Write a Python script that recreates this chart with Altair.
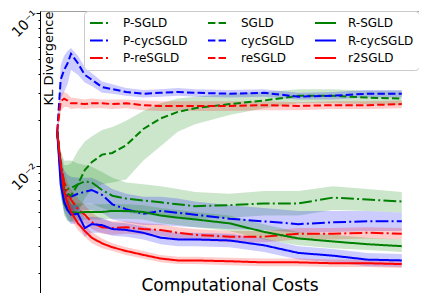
import altair as alt
import pandas as pd

cost = [0, 1, 2, 3, 4, 6, 8, 10, 13, 16, 20, 25, 30, 35, 40, 50, 60, 70, 80, 90, 100]

series_names = ["P-SGLD", "P-cycSGLD", "P-reSGLD",
                "SGLD", "cycSGLD", "reSGLD",
                "R-SGLD", "R-cycSGLD", "r2SGLD"]
series_colors = ["green", "blue", "red", "green", "blue", "red", "green", "blue", "red"]
series_dashes = [[12.8, 3.2, 2, 3.2], [12.8, 3.2, 2, 3.2], [12.8, 3.2, 2, 3.2],
                 [7.4, 3.2], [7.4, 3.2], [7.4, 3.2],
                 [1, 0], [1, 0], [1, 0]]

psgld_mean = [0.0168, 0.0102, 0.00784, 0.00710, 0.00720, 0.00762, 0.00795, 0.00784, 0.00700, 0.00642, 0.00615, 0.00598, 0.00581, 0.00564, 0.00549, 0.00557, 0.00572, 0.00572, 0.00624, 0.00606, 0.00589]
psgld_hi = [0.0180, 0.0126, 0.0109, 0.0109, 0.0109, 0.0104, 0.0102, 0.00990, 0.00918, 0.00842, 0.00784, 0.00762, 0.00741, 0.00710, 0.00680, 0.00661, 0.00690, 0.00690, 0.00741, 0.00710, 0.00680]
psgld_lo = [0.0156, 0.00762, 0.00572, 0.00518, 0.00511, 0.00533, 0.00572, 0.00572, 0.00533, 0.00511, 0.00497, 0.00483, 0.00477, 0.00462, 0.00455, 0.00462, 0.00477, 0.00477, 0.00518, 0.00511, 0.00497]

sgld_mean = [0.0168, 0.00944, 0.00710, 0.00661, 0.00642, 0.00762, 0.00944, 0.0106, 0.0119, 0.0122, 0.0137, 0.0175, 0.0205, 0.0226, 0.0239, 0.0254, 0.0268, 0.0288, 0.0288, 0.0280, 0.0276]
sgld_hi = [0.0180, 0.0126, 0.0102, 0.0102, 0.0104, 0.0126, 0.0145, 0.0156, 0.0172, 0.0180, 0.0198, 0.0229, 0.0257, 0.0276, 0.0284, 0.0297, 0.0305, 0.0318, 0.0318, 0.0310, 0.0310]
sgld_lo = [0.0156, 0.00661, 0.00497, 0.00450, 0.00431, 0.00497, 0.00615, 0.00710, 0.00762, 0.00784, 0.00818, 0.0109, 0.0135, 0.0168, 0.0188, 0.0216, 0.0239, 0.0257, 0.0257, 0.0254, 0.0250]

rsgld_mean = [0.0168, 0.00879, 0.00572, 0.00518, 0.00503, 0.00497, 0.00503, 0.00503, 0.00503, 0.00511, 0.00511, 0.00503, 0.00477, 0.00462, 0.00450, 0.00424, 0.00373, 0.00338, 0.00323, 0.00310, 0.00301]
rsgld_hi = [0.0180, 0.0109, 0.00710, 0.00633, 0.00598, 0.00572, 0.00572, 0.00564, 0.00564, 0.00564, 0.00564, 0.00557, 0.00533, 0.00518, 0.00503, 0.00477, 0.00419, 0.00373, 0.00357, 0.00342, 0.00333]
rsgld_lo = [0.0156, 0.00710, 0.00477, 0.00437, 0.00431, 0.00437, 0.00450, 0.00450, 0.00450, 0.00455, 0.00455, 0.00450, 0.00424, 0.00413, 0.00400, 0.00378, 0.00333, 0.00305, 0.00292, 0.00284, 0.00276]

pcyc_mean = [0.0168, 0.0102, 0.00741, 0.00642, 0.00633, 0.00661, 0.00680, 0.00700, 0.00651, 0.00564, 0.00525, 0.00489, 0.00511, 0.00497, 0.00483, 0.00455, 0.00437, 0.00419, 0.00431, 0.00437, 0.00437]
pcyc_hi = [0.0180, 0.0117, 0.00944, 0.00879, 0.00855, 0.00842, 0.00842, 0.00842, 0.00784, 0.00710, 0.00661, 0.00633, 0.00633, 0.00615, 0.00589, 0.00557, 0.00533, 0.00511, 0.00511, 0.00511, 0.00497]
pcyc_lo = [0.0156, 0.00710, 0.00533, 0.00497, 0.00497, 0.00511, 0.00518, 0.00518, 0.00497, 0.00450, 0.00431, 0.00413, 0.00413, 0.00406, 0.00400, 0.00389, 0.00384, 0.00368, 0.00373, 0.00378, 0.00378]

cyc_mean = [0.0168, 0.0367, 0.0424, 0.0469, 0.0541, 0.0469, 0.0394, 0.0367, 0.0328, 0.0318, 0.0305, 0.0297, 0.0301, 0.0305, 0.0301, 0.0297, 0.0301, 0.0284, 0.0288, 0.0297, 0.0297]
cyc_hi = [0.0180, 0.0455, 0.0525, 0.0564, 0.0589, 0.0525, 0.0443, 0.0406, 0.0357, 0.0342, 0.0323, 0.0314, 0.0318, 0.0323, 0.0318, 0.0314, 0.0318, 0.0301, 0.0305, 0.0314, 0.0314]
cyc_lo = [0.0156, 0.0276, 0.0305, 0.0342, 0.0424, 0.0394, 0.0352, 0.0333, 0.0301, 0.0297, 0.0288, 0.0280, 0.0284, 0.0288, 0.0284, 0.0280, 0.0284, 0.0272, 0.0272, 0.0280, 0.0280]

rcyc_mean = [0.0168, 0.00762, 0.00589, 0.00518, 0.00483, 0.00489, 0.00395, 0.00419, 0.00413, 0.00389, 0.00384, 0.00368, 0.00342, 0.00333, 0.00333, 0.00328, 0.00305, 0.00272, 0.00261, 0.00246, 0.00243]
rcyc_hi = [0.0180, 0.00944, 0.00690, 0.00615, 0.00564, 0.00557, 0.00462, 0.00469, 0.00462, 0.00431, 0.00424, 0.00406, 0.00378, 0.00368, 0.00368, 0.00363, 0.00338, 0.00301, 0.00288, 0.00272, 0.00268]
rcyc_lo = [0.0156, 0.00633, 0.00511, 0.00450, 0.00419, 0.00424, 0.00347, 0.00368, 0.00368, 0.00352, 0.00347, 0.00333, 0.00310, 0.00301, 0.00301, 0.00296, 0.00276, 0.00246, 0.00236, 0.00223, 0.00220]

pre_mean = [0.0168, 0.0102, 0.00784, 0.00661, 0.00606, 0.00525, 0.00483, 0.00431, 0.00400, 0.00395, 0.00400, 0.00389, 0.00384, 0.00368, 0.00357, 0.00347, 0.00347, 0.00363, 0.00363, 0.00368, 0.00363]
pre_hi = [0.0180, 0.0117, 0.00918, 0.00784, 0.00710, 0.00615, 0.00557, 0.00497, 0.00450, 0.00437, 0.00437, 0.00424, 0.00419, 0.00400, 0.00389, 0.00378, 0.00378, 0.00395, 0.00395, 0.00400, 0.00395]
pre_lo = [0.0156, 0.00842, 0.00661, 0.00549, 0.00518, 0.00455, 0.00424, 0.00389, 0.00363, 0.00357, 0.00363, 0.00357, 0.00352, 0.00338, 0.00328, 0.00319, 0.00319, 0.00333, 0.00333, 0.00338, 0.00333]

re_mean = [0.0168, 0.0265, 0.0276, 0.0268, 0.0257, 0.0257, 0.0254, 0.0257, 0.0257, 0.0254, 0.0257, 0.0250, 0.0247, 0.0247, 0.0247, 0.0247, 0.0250, 0.0247, 0.0250, 0.0250, 0.0254]
re_hi = [0.0180, 0.0297, 0.0305, 0.0297, 0.0280, 0.0276, 0.0272, 0.0276, 0.0272, 0.0272, 0.0272, 0.0268, 0.0265, 0.0265, 0.0265, 0.0265, 0.0265, 0.0261, 0.0265, 0.0265, 0.0268]
re_lo = [0.0156, 0.0229, 0.0243, 0.0243, 0.0236, 0.0239, 0.0236, 0.0239, 0.0239, 0.0236, 0.0239, 0.0232, 0.0229, 0.0229, 0.0229, 0.0229, 0.0232, 0.0232, 0.0236, 0.0236, 0.0239]

r2_mean = [0.0168, 0.0102, 0.00690, 0.00572, 0.00503, 0.00424, 0.00378, 0.00342, 0.00314, 0.00296, 0.00280, 0.00264, 0.00250, 0.00243, 0.00243, 0.00240, 0.00236, 0.00236, 0.00233, 0.00233, 0.00230]
r2_hi = [0.0180, 0.0117, 0.00795, 0.00651, 0.00564, 0.00469, 0.00413, 0.00373, 0.00338, 0.00314, 0.00296, 0.00280, 0.00264, 0.00257, 0.00257, 0.00253, 0.00250, 0.00250, 0.00246, 0.00246, 0.00243]
r2_lo = [0.0156, 0.00879, 0.00598, 0.00503, 0.00450, 0.00384, 0.00347, 0.00314, 0.00292, 0.00280, 0.00264, 0.00250, 0.00236, 0.00230, 0.00230, 0.00226, 0.00223, 0.00223, 0.00220, 0.00220, 0.00217]

y_tick_values = [0.002, 0.003, 0.004, 0.005, 0.006, 0.007, 0.008, 0.009, 0.01,
                 0.02, 0.03, 0.04, 0.05, 0.06, 0.07, 0.08, 0.09, 0.1]

series_data = {
    "P-SGLD": (psgld_mean, psgld_lo, psgld_hi),
    "P-cycSGLD": (pcyc_mean, pcyc_lo, pcyc_hi),
    "P-reSGLD": (pre_mean, pre_lo, pre_hi),
    "SGLD": (sgld_mean, sgld_lo, sgld_hi),
    "cycSGLD": (cyc_mean, cyc_lo, cyc_hi),
    "reSGLD": (re_mean, re_lo, re_hi),
    "R-SGLD": (rsgld_mean, rsgld_lo, rsgld_hi),
    "R-cycSGLD": (rcyc_mean, rcyc_lo, rcyc_hi),
    "r2SGLD": (r2_mean, r2_lo, r2_hi),
}

rows = []
for name, (m, lo, hi) in series_data.items():
    for i, c in enumerate(cost):
        rows.append({"series": name, "band": name, "cost": c,
                     "kl": m[i], "lo": lo[i], "hi": hi[i]})
df = pd.DataFrame(rows)

FONT = "DejaVu Sans"

x_enc = alt.X("cost:Q",
              scale=alt.Scale(domain=[-5, 105], nice=False, zero=False),
              axis=alt.Axis(title="Computational Costs", labels=False, ticks=False,
                            domain=False, grid=False, titleFontSize=17,
                            titleFont=FONT, titleFontWeight="normal", titleColor="black",
                            titleY=-3, titleBaseline="alphabetic"))

y_scale = alt.Scale(type="log", domain=[0.00149, 0.1028], nice=False)
y_axis = alt.Axis(values=y_tick_values,
                  labelExpr="datum.value == 0.1 ? '10⁻¹' : (datum.value == 0.01 ? '10⁻²' : '')",
                  labelAngle=315, labelAlign="right", labelBaseline="middle",
                  labelFontSize=14, labelFont=FONT, labelColor="black", labelPadding=0,
                  labelFlush=False, labelOverlap=False,
                  tickSize={"condition": {"test": "datum.value == 0.1 || datum.value == 0.01", "value": 4}, "value": 2},
                  tickColor="black", domainColor="black", grid=False,
                  title="KL Divergence", titleFontSize=13, titleFont=FONT,
                  titleFontWeight="normal", titleColor="black",
                  titleAngle=270, titleX=8, titleY=0, titleAlign="right",
                  titleBaseline="middle")

legend = alt.Legend(title=None, orient="top-right", offset=0, columns=3,
                    symbolType="stroke", symbolSize=441, symbolStrokeWidth=2,
                    clipHeight=14,
                    labelFontSize=12, labelFont=FONT, labelColor="black",
                    labelOffset=11, columnPadding=19, rowPadding=3.5, padding=5,
                    fillColor="white", strokeColor="#cccccc", cornerRadius=4,
                    symbolOpacity=1)

bands = alt.Chart(df).mark_area(opacity=0.2).encode(
    x=x_enc,
    y=alt.Y("lo:Q", scale=y_scale, axis=y_axis),
    y2="hi:Q",
    fill=alt.Fill("band:N", scale=alt.Scale(domain=series_names, range=series_colors), legend=None),
    detail="band:N",
)

lines = alt.Chart(df).mark_line(strokeWidth=2).encode(
    x=x_enc,
    y=alt.Y("kl:Q", scale=y_scale, axis=y_axis),
    color=alt.Color("series:N", scale=alt.Scale(domain=series_names, range=series_colors), legend=legend),
    strokeDash=alt.StrokeDash("series:N", scale=alt.Scale(domain=series_names, range=series_dashes), legend=legend),
)

chart = alt.layer(bands, lines).resolve_scale(fill="independent").properties(
    width=379, height=282,
    autosize=alt.AutoSizeParams(type="none"),
    padding={"left": 32, "top": 3, "right": 0, "bottom": 0},
).configure_view(stroke="#a0a0a0", strokeWidth=1)

chart.save("out.html", embed_options={"renderer": "svg", "actions": False})
